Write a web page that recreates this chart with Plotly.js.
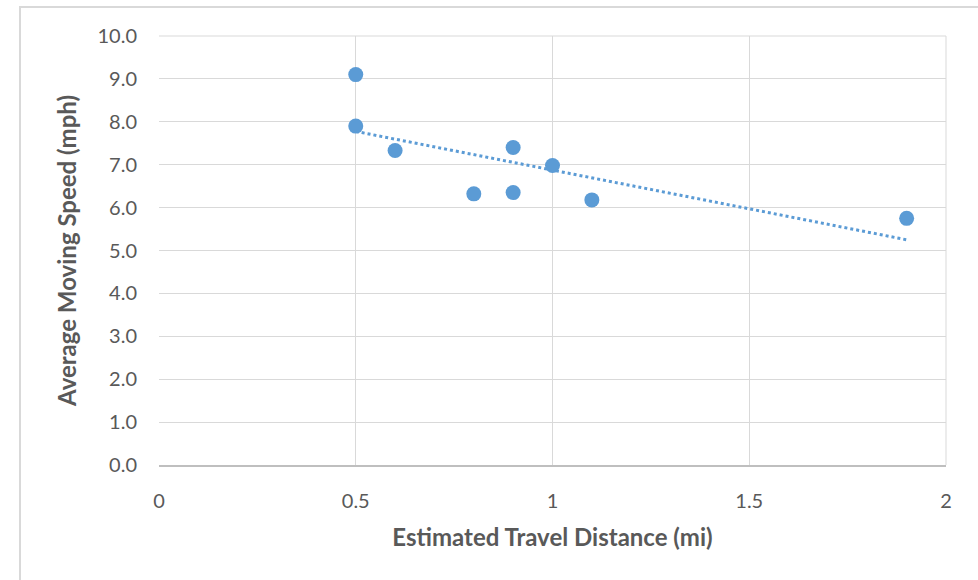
<!DOCTYPE html>
<html>
<head>
<meta charset="utf-8">
<script src="https://cdn.plot.ly/plotly-3.0.1.min.js"></script>
<style>
  html, body { margin: 0; padding: 0; background: #fff; overflow: hidden; }
  #frame { position: absolute; left: 19px; top: 6px; width: 1000px; height: 620px; border: 2px solid #d9d9d9; box-sizing: border-box; }
  #chart { position: absolute; left: 0; top: 0; width: 978px; height: 580px; }
</style>
</head>
<body>
<div id="frame"></div>
<div id="chart"></div>
<script>
const distance = [0.5, 0.5, 0.6, 0.8, 0.9, 0.9, 1.0, 1.1, 1.9];
const speed = [9.1, 7.9, 7.33, 6.32, 7.4, 6.35, 6.98, 6.18, 5.75];
const xTickVals = [0, 0.5, 1, 1.5, 2];
const xTickText = ['0', '0.5', '1', '1.5', '2'];
const yTickVals = [0, 1, 2, 3, 4, 5, 6, 7, 8, 9, 10];
const yTickText = ['0.0', '1.0', '2.0', '3.0', '4.0', '5.0', '6.0', '7.0', '8.0', '9.0', '10.0'];

// linear least-squares trendline computed from the data
const n = distance.length;
const mx = distance.reduce((a, b) => a + b, 0) / n;
const my = speed.reduce((a, b) => a + b, 0) / n;
let sxy = 0, sxx = 0;
for (let i = 0; i < n; i++) { sxy += (distance[i] - mx) * (speed[i] - my); sxx += (distance[i] - mx) ** 2; }
const slope = sxy / sxx, intercept = my - slope * mx;
const xMin = Math.min(...distance), xMax = Math.max(...distance);
const trendX = [xMin, xMax];
const trendY = trendX.map(x => intercept + slope * x);

const blue = '#5B9BD5';
const font = 'Lato, "Open Sans", sans-serif';

Plotly.newPlot('chart', [
  { x: trendX, y: trendY, mode: 'lines', line: { color: blue, width: 3, dash: 'dot' }, hoverinfo: 'skip', showlegend: false },
  { x: distance, y: speed, mode: 'markers', marker: { color: blue, size: 15 }, showlegend: false }
], {
  width: 978, height: 580,
  margin: { l: 159, r: 32, t: 36, b: 115 },
  paper_bgcolor: 'rgba(0,0,0,0)', plot_bgcolor: '#fff',
  font: { family: font, color: '#595959' },
  xaxis: {
    range: [0, 2], tickvals: xTickVals, ticktext: xTickText,
    showgrid: true, gridcolor: '#d9d9d9', gridwidth: 1,
    zeroline: false, showline: true, linecolor: '#bfbfbf', linewidth: 1.5,
    ticks: 'outside', ticklen: 17, tickcolor: 'rgba(0,0,0,0)',
    tickfont: { size: 20, color: '#595959', family: font },
    title: { text: 'Estimated Travel Distance (mi)', font: { size: 24, color: '#595959', family: font, weight: 'bold' }, standoff: 18 },
    mirror: false, fixedrange: true
  },
  yaxis: {
    range: [0, 10], tickvals: yTickVals, ticktext: yTickText,
    showgrid: true, gridcolor: '#d9d9d9', gridwidth: 1,
    zeroline: false, showline: false,
    ticks: 'outside', ticklen: 17, tickcolor: 'rgba(0,0,0,0)',
    tickfont: { size: 20, color: '#595959', family: font },
    title: { text: 'Average Moving Speed (mph)', font: { size: 24, color: '#595959', family: font, weight: 'bold' }, standoff: 14 },
    fixedrange: true
  },
  shapes: [
    { type: 'line', xref: 'paper', yref: 'paper', x0: 1, x1: 1, y0: 0, y1: 1, line: { color: '#d9d9d9', width: 1 } },
    { type: 'line', xref: 'paper', yref: 'paper', x0: 0, x1: 1, y0: 1, y1: 1, line: { color: '#d9d9d9', width: 1 } }
  ]
}, { displayModeBar: false, staticPlot: true });
</script>
</body>
</html>
